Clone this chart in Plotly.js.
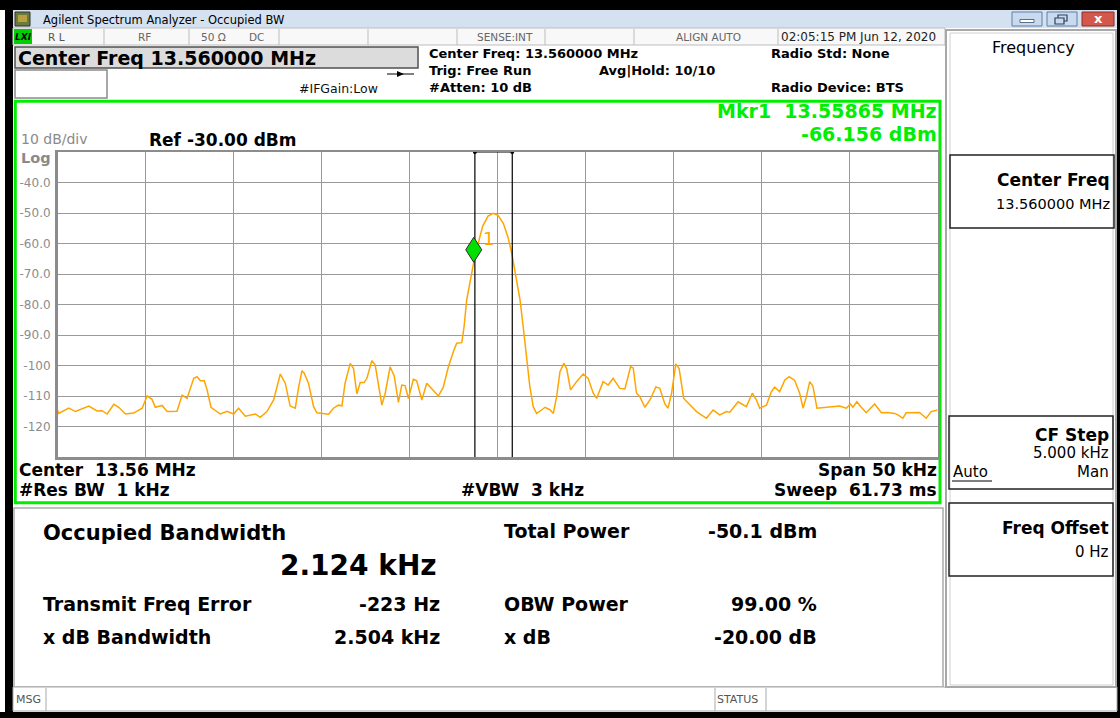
<!DOCTYPE html>
<html><head><meta charset="utf-8">
<script src="https://cdn.plot.ly/plotly-3.0.1.min.js"></script>
<style>html,body{margin:0;padding:0;background:#fff;overflow:hidden}#chart{width:1120px;height:718px}</style>
</head><body><div id="chart"></div>
<script>
// ---------- data ----------
const centerMHz = 13.56;
const spanKHz = 50;
const refLevelDbm = -30;
const bottomLevelDbm = -130;
const yTickVals = [-40, -50, -60, -70, -80, -90, -100, -110, -120];
const yTickText = ['-40.0', '-50.0', '-60.0', '-70.0', '-80.0', '-90.0', '-100', '-110', '-120'];
const freqOffsetKHz = [-25.0,-24.93,-24.36,-23.98,-23.22,-22.75,-22.46,-22.18,-21.80,-21.52,
 -21.14,-20.67,-20.19,-19.91,-19.63,-19.44,-19.06,-18.77,-18.21,-17.92,
 -17.64,-17.26,-17.07,-16.88,-16.66,-16.50,-16.28,-15.75,-15.37,-14.99,
 -14.71,-14.33,-13.76,-13.48,-13.10,-12.72,-12.34,-12.06,-11.78,-11.49,
 -11.31,-11.11,-10.98,-10.83,-10.74,-10.45,-10.26,-9.60,-9.32,-9.04,
 -8.84,-8.66,-8.37,-8.18,-7.99,-7.80,-7.58,-7.42,-7.14,-6.95,
 -6.77,-6.57,-6.38,-6.10,-5.87,-5.63,-5.44,-5.25,-5.06,-4.78,
 -4.59,-4.30,-4.02,-3.73,-3.36,-3.08,-2.79,-2.51,-2.32,-2.03,
 -1.90,-1.75,-1.46,-1.35,-1.10,-0.84,-0.54,-0.24,0.03,0.33,
 0.60,0.81,1.05,1.28,1.46,1.66,1.84,2.03,2.22,2.41,
 2.70,2.98,3.17,3.36,3.55,3.77,3.93,4.15,4.49,4.87,
 5.15,5.44,5.63,6.00,6.29,6.57,6.95,7.24,7.56,7.71,
 7.90,8.09,8.37,8.66,9.00,9.22,9.51,9.69,9.89,10.13,
 10.32,10.58,10.93,11.31,11.87,12.25,12.63,13.01,13.20,13.67,
 14.14,14.48,14.71,14.90,15.28,15.56,15.75,16.03,16.32,16.56,
 16.88,17.17,17.36,17.55,17.74,17.92,18.15,18.68,19.44,19.82,
 20.05,20.19,20.42,20.67,20.95,21.43,21.81,22.18,22.56,22.75,
 23.03,23.22,23.98,24.36,24.64,25.0];
const levelDbm = [-114.6,-115.7,-114.0,-115.1,-113.3,-114.9,-114.8,-115.9,-112.7,-113.7,
 -115.9,-115.6,-114.0,-110.0,-111.1,-113.7,-113.1,-115.1,-115.0,-109.7,
 -110.8,-104.2,-103.7,-105.0,-105.0,-108.0,-113.7,-115.9,-115.0,-115.9,
 -114.0,-116.6,-115.9,-117.0,-115.1,-111.3,-102.8,-105.8,-113.3,-114.0,
 -107.5,-101.7,-102.5,-104.5,-105.8,-113.5,-115.5,-116.0,-114.0,-113.0,
 -113.2,-105.8,-99.3,-101.0,-109.3,-105.6,-105.6,-104.2,-98.4,-99.8,
 -105.6,-113.0,-109.1,-100.4,-103.4,-112.1,-106.4,-106.6,-110.8,-104.5,
 -105.0,-111.3,-105.8,-107.5,-110.0,-107.1,-100.4,-95.5,-92.7,-92.5,
 -87.3,-78.5,-68.7,-66.2,-60.0,-54.3,-51.0,-50.1,-50.8,-53.4,
 -58.0,-63.2,-71.0,-78.5,-87.3,-98.2,-107.0,-113.5,-115.7,-115.0,
 -113.7,-114.5,-115.7,-110.2,-102.0,-99.3,-101.0,-108.0,-105.3,-102.8,
 -104.2,-109.1,-110.8,-105.3,-106.4,-104.2,-107.5,-107.7,-100.4,-100.8,
 -109.1,-110.2,-113.7,-111.3,-107.0,-107.5,-112.6,-114.0,-109.1,-99.5,
 -101.0,-110.8,-113.0,-115.1,-117.3,-114.6,-116.2,-115.1,-115.3,-111.9,
 -113.5,-109.1,-111.3,-114.0,-113.0,-108.6,-107.1,-108.6,-104.8,-103.7,
 -104.8,-109.1,-114.0,-110.2,-105.3,-106.7,-114.0,-113.7,-113.3,-114.0,
 -112.6,-113.7,-111.9,-113.7,-115.5,-112.6,-115.5,-115.4,-115.7,-116.2,
 -117.3,-115.5,-115.4,-117.3,-115.1,-114.6];
const markerFreqMHz = 13.55865;
const markerLevelDbm = -66.156;
const obwKHz = 2.124;
const freqErrorKHz = -0.223;
const resultLabels = ['Transmit Freq Error', 'x dB Bandwidth'];
const resultValues = ['-223 Hz', '2.504 kHz'];
const rightLabels = ['Total Power', 'OBW Power', 'x dB'];
const rightValues = ['-50.1 dBm', '99.00 %', '-20.00 dB'];

// ---------- helpers ----------
const W = 1120, H = 718;
const F = 'DejaVu Sans';
const NB = '\u00a0';
function A(text, x, y, size, color, anchor, bold, extra) {
  const a = {xref:'paper', yref:'paper', x:x/W, y:1-y/H, text: bold ? '<b>'+text+'</b>' : text,
    showarrow:false, xanchor: anchor||'left', yanchor:'middle', borderpad:0,
    font:{family:F, size:size, color:color||'#000'}};
  return Object.assign(a, extra||{});
}
function R(x0,y0,x1,y1,fill,lc,lw,layer){
  return {type:'rect', xref:'paper', yref:'paper', x0:x0/W, x1:x1/W, y0:1-y0/H, y1:1-y1/H,
    fillcolor: fill||'rgba(0,0,0,0)', line:{color: lc||'rgba(0,0,0,0)', width: lw||0}, layer: layer||'below'};
}
function L(x0,y0,x1,y1,c,w,layer){
  return {type:'line', xref:'paper', yref:'paper', x0:x0/W, x1:x1/W, y0:1-y0/H, y1:1-y1/H,
    line:{color:c, width:w}, layer: layer||'below'};
}
function PP(pts, fill, lc, lw){
  const d = pts.map((p,i)=>(i?'L':'M')+(p[0]/W)+','+(1-p[1]/H)).join(' ')+' Z';
  return {type:'path', xref:'paper', yref:'paper', path:d, fillcolor:fill, line:{color:lc||fill, width:lw||0}, layer:'below'};
}

const shapes = [], ann = [];

// frame
shapes.push(R(0,0,1120,10,'#000'));
shapes.push(R(5,0,13,718,'#000'));
shapes.push(R(1117,0,1120,718,'#000'));
shapes.push(R(0,712,1120,718,'#000'));

// title bar
shapes.push(R(13,10,1117,28,'#D3E1F1'));
shapes.push(R(15,12,30,26,'#6A7A3A','#333',1));
shapes.push(R(18,15,27,22,'#B8A040'));
ann.push(A('Agilent Spectrum Analyzer - Occupied BW', 42, 19.5, 11.5, '#000'));
shapes.push(R(1012,12,1042,26,'#C9DAEE','#5E7FA6',1));
shapes.push(R(1047,12,1077,26,'#C9DAEE','#5E7FA6',1));
shapes.push(R(1082,12,1114,26,'#D4574B','#8C2E26',1));
shapes.push(R(1020,19.5,1034,22.5,'#FFFFFF','#3A4E6C',0.8));
shapes.push(R(1058,15,1067,21,'rgba(0,0,0,0)','#2E3F5C',1.2));
shapes.push(R(1055,18,1064,24,'#C9DAEE','#2E3F5C',1.2));
ann.push(A('x', 1098, 18.5, 13, '#FFFFFF', 'center', true));

// status row
shapes.push(R(13,28,945,45,'#F8F8F8','#BDBDBD',1));
[104,189,279,368,457,545,634,778].forEach(x=>shapes.push(L(x,29,x,45,'#BDBDBD',1)));
shapes.push(R(14,29,32,44,'#00D000'));
ann.push(A('<b><i>LXI</i></b>', 23, 37, 9, '#000', 'center'));
ann.push(A('R'+NB+'L', 47, 37, 10.5, '#555'));
ann.push(A('RF', 137, 37, 10.5, '#666'));
ann.push(A('50 Ω', 200, 37, 10.5, '#666'));
ann.push(A('DC', 248, 37, 10.5, '#666'));
ann.push(A('SENSE:INT', 534, 37, 10.5, '#666', 'right'));
ann.push(A('ALIGN AUTO', 675, 37, 10.5, '#666'));
ann.push(A('02:05:15 PM Jun 12, 2020', 780, 37, 12, '#222'));

// header
shapes.push(R(15,47,418,68,'#DCDCDC','#505050',1.5));
shapes.push(R(15,70,107,98,'#FFFFFF','#8A8A8A',1.5));
ann.push(A('Center Freq 13.560000 MHz', 17, 58, 19, '#000', 'left', true));
shapes.push(L(387,74,414,74,'#000',1));
shapes.push(PP([[397,71],[404,74],[397,77]], '#000'));
ann.push(A('#IFGain:Low', 298, 88.5, 12.5, '#111'));
ann.push(A('Center Freq: 13.560000 MHz', 428, 53.5, 13, '#000', 'left', true));
ann.push(A('Trig: Free Run', 428, 70.5, 13, '#000', 'left', true));
ann.push(A('#Atten: 10 dB', 428, 87.5, 13, '#000', 'left', true));
ann.push(A('Avg|Hold: 10/10', 598, 70.5, 13, '#000', 'left', true));
ann.push(A('Radio Std: None', 770, 53.5, 13, '#000', 'left', true));
ann.push(A('Radio Device: BTS', 770, 87.5, 13, '#000', 'left', true));

// green measurement box
shapes.push(R(15.3,101.3,940,502.8,null,'#00EE00',3));
ann.push(A('10 dB/div', 20, 139.5, 14, '#8A8A8A'));
ann.push(A('Log', 20, 157.5, 14.5, '#8A8A8A', 'left', true));
ann.push(A('Ref -30.00 dBm', 148, 140, 17, '#000', 'left', true));
ann.push(A('Mkr1'+NB+NB+'13.55865 MHz', 938, 111.5, 19, '#00EE00', 'right', true));
ann.push(A('-66.156 dBm', 938, 134, 19, '#00EE00', 'right', true));
ann.push(A('Center'+NB+NB+'13.56 MHz', 18, 470, 17, '#000', 'left', true));
ann.push(A('#Res BW'+NB+NB+'1 kHz', 18, 490, 17, '#000', 'left', true));
ann.push(A('#VBW'+NB+NB+'3 kHz', 460, 490, 17, '#000', 'left', true));
ann.push(A('Span 50 kHz', 938, 470, 17, '#000', 'right', true));
ann.push(A('Sweep'+NB+NB+'61.73 ms', 938, 490, 17, '#000', 'right', true));

// results
shapes.push(R(14,508,943,687,'#FFFFFF','#AAAAAA',1.5));
ann.push(A('Occupied Bandwidth', 42, 533, 21, '#000', 'left', true));
ann.push(A(obwKHz.toFixed(3)+' kHz', 438, 565, 28, '#000', 'right', true));
[604,637].forEach((y,i)=>{
  ann.push(A(resultLabels[i], 42, y, 19, '#000', 'left', true));
  ann.push(A(resultValues[i], 441, y, 19, '#000', 'right', true));
});
[531,604,637].forEach((y,i)=>{
  ann.push(A(rightLabels[i], 503, y, 19, '#000', 'left', true));
  ann.push(A(rightValues[i], 818, y, 19, '#000', 'right', true));
});

// bottom status bar
shapes.push(R(13,687,1117,711,'#FFFFFF','#AAAAAA',1));
shapes.push(L(46,688,46,711,'#AAAAAA',1));
shapes.push(L(715,688,715,711,'#AAAAAA',1));
shapes.push(L(766,688,766,711,'#AAAAAA',1));
ann.push(A('MSG', 15, 699, 11, '#555'));
ann.push(A('STATUS', 716, 699, 11, '#555'));

// right soft-key panel
shapes.push(R(946,30,1116,687,'#FFFFFF','#A8A8A8',2));
shapes.push(R(950,33,1113,685,null,'#D0D0D0',1));
shapes.push(R(950,155,1114,228,null,'#222',1.5));
shapes.push(R(949,416,1113,489,null,'#222',1.5));
shapes.push(R(949,503,1113,576,null,'#222',1.5));
ann.push(A('Frequency', 1033, 48, 16, '#000', 'center'));
ann.push(A('Center Freq', 1111, 180, 17, '#000', 'right', true));
ann.push(A('13.560000 MHz', 1111, 204, 14.5, '#000', 'right'));
ann.push(A('CF Step', 1110, 435, 17, '#000', 'right', true));
ann.push(A('5.000 kHz', 1110, 453, 15, '#000', 'right'));
ann.push(A('Auto', 952, 472, 15, '#000', 'left'));
shapes.push(L(952,481,992,481,'#000',1.2));
ann.push(A('Man', 1110, 472, 15, '#000', 'right'));
ann.push(A('Freq Offset', 1110, 528, 17, '#000', 'right', true));
ann.push(A('0 Hz', 1110, 552, 15, '#000', 'right'));

// ---------- plot ----------
const fMin = centerMHz - spanKHz/2000, fMax = centerMHz + spanKHz/2000;
const xGrid = []; for (let k=1;k<10;k++) xGrid.push(fMin + k*spanKHz/10000);
const freqMHz = freqOffsetKHz.map(o => centerMHz + o/1000);
const obwLeft = centerMHz + (freqErrorKHz - obwKHz/2)/1000;
const obwRight = centerMHz + (freqErrorKHz + obwKHz/2)/1000;

shapes.push({type:'line', xref:'x', yref:'y', x0:obwLeft, x1:obwLeft, y0:bottomLevelDbm, y1:refLevelDbm, line:{color:'#000', width:1.2}, layer:'above'});
shapes.push({type:'line', xref:'x', yref:'y', x0:obwRight, x1:obwRight, y0:bottomLevelDbm, y1:refLevelDbm, line:{color:'#000', width:1.2}, layer:'above'});
shapes.push({type:'path', xref:'x', yref:'y', xsizemode:'pixel', ysizemode:'pixel',
  xanchor: markerFreqMHz, yanchor: markerLevelDbm, path:'M0,0 L8,12.5 L0,25 L-8,12.5 Z',
  fillcolor:'#00E000', line:{color:'#2A2A2A', width:1}, layer:'above'});
ann.push({xref:'x', yref:'y', x:markerFreqMHz, y:markerLevelDbm, xshift:15, yshift:24, text:'1',
  showarrow:false, font:{family:F, size:18, color:'#FFA500'}});

const traces = [
  {x:freqMHz, y:levelDbm, type:'scatter', mode:'lines', line:{color:'#FFA500', width:1.5}, hoverinfo:'skip'},
  {x:[obwLeft, obwRight], y:[refLevelDbm, refLevelDbm], type:'scatter', mode:'lines+markers',
   line:{color:'#000', width:1.2}, marker:{size:4, color:'#000'}, cliponaxis:false, hoverinfo:'skip'}
];

const layout = {
  width:W, height:H, autosize:false, showlegend:false,
  margin:{l:0, r:0, t:0, b:0, pad:0},
  paper_bgcolor:'#FFFFFF', plot_bgcolor:'#FFFFFF',
  xaxis:{domain:[57.5/W, 937.5/W], range:[fMin, fMax], tickvals:xGrid, showticklabels:false, ticks:'',
    showgrid:true, gridcolor:'#9A9A9A', gridwidth:1, showline:true, mirror:true, linecolor:'#8C8C8C', linewidth:2.5,
    zeroline:false, fixedrange:true},
  yaxis:{domain:[1-457/H, 1-152/H], range:[bottomLevelDbm, refLevelDbm], tickvals:yTickVals, ticktext:yTickText,
    tickfont:{family:F, size:12, color:'#8C8C8C'}, ticks:'', ticklabelstandoff:2,
    showgrid:true, gridcolor:'#9A9A9A', gridwidth:1, showline:true, mirror:true, linecolor:'#8C8C8C', linewidth:2.5,
    zeroline:false, fixedrange:true},
  shapes:shapes, annotations:ann
};
Plotly.newPlot('chart', traces, layout, {displayModeBar:false, staticPlot:true});
</script></body></html>
